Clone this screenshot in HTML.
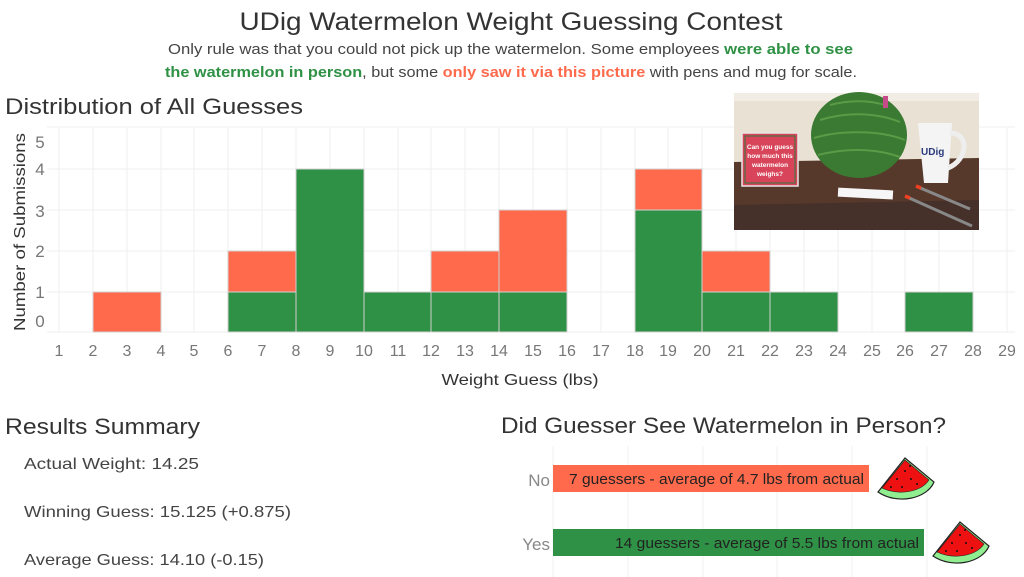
<!DOCTYPE html>
<html><head><meta charset="utf-8"><style>
html,body{margin:0;padding:0;background:#fff;width:1024px;height:577px;overflow:hidden}
svg{display:block}
text{font-family:"Liberation Sans",sans-serif}
</style></head><body>
<svg width="1024" height="577" viewBox="0 0 1024 577" xmlns="http://www.w3.org/2000/svg">
<text x="511" y="30" text-anchor="middle" font-size="25" fill="#333" textLength="543" lengthAdjust="spacingAndGlyphs">UDig Watermelon Weight Guessing Contest</text>
<text x="168" y="54" font-size="15" fill="#444" textLength="685" lengthAdjust="spacingAndGlyphs">Only rule was that you could not pick up the watermelon. Some employees <tspan fill="#2f9145" font-weight="bold">were able to see</tspan></text>
<text x="165" y="77" font-size="15" fill="#444" textLength="692" lengthAdjust="spacingAndGlyphs"><tspan fill="#2f9145" font-weight="bold">the watermelon in person</tspan>, but some <tspan fill="#ff6a4d" font-weight="bold">only saw it via this picture</tspan> with pens and mug for scale.</text>
<text x="5" y="114" font-size="22" fill="#333" textLength="298" lengthAdjust="spacingAndGlyphs">Distribution of All Guesses</text>

<g stroke="#efefef" stroke-width="1">
<line x1="47" y1="127" x2="1015" y2="127"/>
<line x1="47" y1="169" x2="1015" y2="169"/>
<line x1="47" y1="210" x2="1015" y2="210"/>
<line x1="47" y1="251" x2="1015" y2="251"/>
<line x1="47" y1="292" x2="1015" y2="292"/>
<line x1="47" y1="332" x2="1015" y2="332"/>
<line x1="59" y1="127" x2="59" y2="332"/><line x1="93" y1="127" x2="93" y2="332"/><line x1="127" y1="127" x2="127" y2="332"/><line x1="161" y1="127" x2="161" y2="332"/><line x1="194" y1="127" x2="194" y2="332"/><line x1="228" y1="127" x2="228" y2="332"/><line x1="262" y1="127" x2="262" y2="332"/><line x1="296" y1="127" x2="296" y2="332"/><line x1="330" y1="127" x2="330" y2="332"/><line x1="364" y1="127" x2="364" y2="332"/><line x1="398" y1="127" x2="398" y2="332"/><line x1="431" y1="127" x2="431" y2="332"/><line x1="465" y1="127" x2="465" y2="332"/><line x1="499" y1="127" x2="499" y2="332"/><line x1="533" y1="127" x2="533" y2="332"/><line x1="567" y1="127" x2="567" y2="332"/><line x1="601" y1="127" x2="601" y2="332"/><line x1="635" y1="127" x2="635" y2="332"/><line x1="668" y1="127" x2="668" y2="332"/><line x1="702" y1="127" x2="702" y2="332"/><line x1="736" y1="127" x2="736" y2="332"/><line x1="770" y1="127" x2="770" y2="332"/><line x1="804" y1="127" x2="804" y2="332"/><line x1="838" y1="127" x2="838" y2="332"/><line x1="872" y1="127" x2="872" y2="332"/><line x1="905" y1="127" x2="905" y2="332"/><line x1="939" y1="127" x2="939" y2="332"/><line x1="973" y1="127" x2="973" y2="332"/><line x1="1007" y1="127" x2="1007" y2="332"/>
</g>
<g stroke="#d0d0d0" stroke-width="1">
<rect x="93" y="292" width="68" height="40" fill="#ff6a4d"/>
<rect x="228" y="292" width="68" height="40" fill="#2f9145"/>
<rect x="228" y="251" width="68" height="41" fill="#ff6a4d"/>
<rect x="296" y="169" width="68" height="163" fill="#2f9145"/>
<rect x="364" y="292" width="67" height="40" fill="#2f9145"/>
<rect x="431" y="292" width="68" height="40" fill="#2f9145"/>
<rect x="431" y="251" width="68" height="41" fill="#ff6a4d"/>
<rect x="499" y="292" width="68" height="40" fill="#2f9145"/>
<rect x="499" y="210" width="68" height="82" fill="#ff6a4d"/>
<rect x="635" y="210" width="67" height="122" fill="#2f9145"/>
<rect x="635" y="169" width="67" height="41" fill="#ff6a4d"/>
<rect x="702" y="292" width="68" height="40" fill="#2f9145"/>
<rect x="702" y="251" width="68" height="41" fill="#ff6a4d"/>
<rect x="770" y="292" width="68" height="40" fill="#2f9145"/>
<rect x="905" y="292" width="68" height="40" fill="#2f9145"/>
</g>
<g font-size="17" fill="#777" text-anchor="middle">
<text x="40" y="148">5</text><text x="40" y="175">4</text><text x="40" y="217">3</text><text x="40" y="257">2</text><text x="40" y="298">1</text><text x="40" y="327">0</text>
</g>
<text transform="translate(25,232) rotate(-90)" text-anchor="middle" font-size="16" fill="#333" textLength="198" lengthAdjust="spacingAndGlyphs">Number of Submissions</text>
<g font-size="16" fill="#777" text-anchor="middle">
<text x="59" y="356">1</text><text x="93" y="356">2</text><text x="127" y="356">3</text><text x="161" y="356">4</text><text x="194" y="356">5</text><text x="228" y="356">6</text><text x="262" y="356">7</text><text x="296" y="356">8</text><text x="330" y="356">9</text><text x="364" y="356">10</text><text x="398" y="356">11</text><text x="431" y="356">12</text><text x="465" y="356">13</text><text x="499" y="356">14</text><text x="533" y="356">15</text><text x="567" y="356">16</text><text x="601" y="356">17</text><text x="635" y="356">18</text><text x="668" y="356">19</text><text x="702" y="356">20</text><text x="736" y="356">21</text><text x="770" y="356">22</text><text x="804" y="356">23</text><text x="838" y="356">24</text><text x="872" y="356">25</text><text x="905" y="356">26</text><text x="939" y="356">27</text><text x="973" y="356">28</text><text x="1007" y="356">29</text>
</g>
<text x="520" y="385" text-anchor="middle" font-size="16" fill="#333" textLength="157" lengthAdjust="spacingAndGlyphs">Weight Guess (lbs)</text>

<g>
<rect x="734" y="93" width="245" height="137" fill="#e9e1d3"/>
<rect x="734" y="93" width="245" height="8" fill="#f2ede4"/>
<polygon points="734,162 979,158 979,230 734,230" fill="#56392b"/>
<polygon points="734,205 979,200 979,230 734,230" fill="#45302a"/>
<ellipse cx="859" cy="135" rx="48" ry="43" fill="#3a7a32"/>
<g fill="none" stroke="#6aa84f" stroke-width="2" opacity="0.7">
<path d="M820,120 C845,112 875,112 900,122"/><path d="M814,138 C840,130 880,130 905,140"/><path d="M818,155 C845,148 875,148 900,157"/><path d="M830,105 C850,100 870,100 888,106"/>
</g>
<rect x="883" y="96" width="5" height="12" fill="#c74a8a"/>
<rect x="742" y="133" width="56" height="53" fill="#d8455a" stroke="#e8e8e8" stroke-width="1.5"/>
<rect x="745" y="136" width="50" height="47" fill="none" stroke="#2f7a3e" stroke-width="1"/>
<text x="770" y="149" text-anchor="middle" font-size="6.5" font-weight="bold" fill="#fff">Can you guess</text>
<text x="770" y="158" text-anchor="middle" font-size="6.5" font-weight="bold" fill="#fff">how much this</text>
<text x="770" y="167" text-anchor="middle" font-size="6.5" font-weight="bold" fill="#fff">watermelon</text>
<text x="770" y="176" text-anchor="middle" font-size="6.5" font-weight="bold" fill="#fff">weighs?</text>
<path d="M918,123 L952,123 L948,183 L924,183 Z" fill="#f4f4f4"/>
<path d="M950,133 C970,133 968,160 948,168" fill="none" stroke="#eee" stroke-width="5"/>
<text x="921" y="155" font-size="10" font-weight="bold" fill="#2a3a7a">UDig</text>
<rect x="838" y="189" width="55" height="9" fill="#f6f6f6" transform="rotate(3 865 193)"/>
<line x1="907" y1="197" x2="972" y2="226" stroke="#888" stroke-width="3"/>
<line x1="918" y1="187" x2="970" y2="209" stroke="#888" stroke-width="3"/>
<line x1="905" y1="196" x2="910" y2="198" stroke="#f04020" stroke-width="3.5"/>
<line x1="916" y1="186" x2="921" y2="188" stroke="#f04020" stroke-width="3.5"/>
</g>

<text x="5" y="434" font-size="22" fill="#333" textLength="195" lengthAdjust="spacingAndGlyphs">Results Summary</text>
<text x="24" y="469" font-size="16" fill="#444" textLength="175" lengthAdjust="spacingAndGlyphs">Actual Weight: 14.25</text>
<text x="24" y="517" font-size="16" fill="#444" textLength="267" lengthAdjust="spacingAndGlyphs">Winning Guess: 15.125 (+0.875)</text>
<text x="24" y="565" font-size="16" fill="#444" textLength="240" lengthAdjust="spacingAndGlyphs">Average Guess: 14.10 (-0.15)</text>

<text x="501" y="433" font-size="22" fill="#333" textLength="445" lengthAdjust="spacingAndGlyphs">Did Guesser See Watermelon in Person?</text>
<g stroke="#f0f0f0">
<line x1="553" y1="446" x2="553" y2="577"/><line x1="628" y1="446" x2="628" y2="577"/><line x1="703" y1="446" x2="703" y2="577"/><line x1="777" y1="446" x2="777" y2="577"/><line x1="852" y1="446" x2="852" y2="577"/><line x1="927" y1="446" x2="927" y2="577"/>
</g>
<rect x="553" y="465" width="316" height="27" fill="#ff6a4d"/>
<rect x="553" y="529" width="371" height="27" fill="#2f9145"/>
<text x="550" y="486" text-anchor="end" font-size="17" fill="#888">No</text>
<text x="550" y="550" text-anchor="end" font-size="17" fill="#888">Yes</text>
<text x="864" y="484" text-anchor="end" font-size="15" fill="#222" textLength="295" lengthAdjust="spacingAndGlyphs">7 guessers - average of 4.7 lbs from actual</text>
<text x="919" y="548" text-anchor="end" font-size="15" fill="#222" textLength="304" lengthAdjust="spacingAndGlyphs">14 guessers - average of 5.5 lbs from actual</text>

<g transform="translate(877,457)">
<path d="M1,35 L28,1 L57,25 C50,42 20,48 1,35 Z" fill="#90ee90" stroke="#222" stroke-width="1.2"/>
<path d="M5,31 L28,3 L52,23 C44,35 22,39 5,31 Z" fill="#ee1111" stroke="#222" stroke-width="0.6"/>
<g fill="#111"><circle cx="20" cy="22" r="1"/><circle cx="28" cy="14" r="1"/><circle cx="34" cy="22" r="1"/><circle cx="25" cy="30" r="1"/><circle cx="40" cy="27" r="1"/><circle cx="33" cy="9" r="1"/><circle cx="14" cy="30" r="1"/></g>
</g>
<g transform="translate(932,521)">
<path d="M1,35 L28,1 L57,25 C50,42 20,48 1,35 Z" fill="#90ee90" stroke="#222" stroke-width="1.2"/>
<path d="M5,31 L28,3 L52,23 C44,35 22,39 5,31 Z" fill="#ee1111" stroke="#222" stroke-width="0.6"/>
<g fill="#111"><circle cx="20" cy="22" r="1"/><circle cx="28" cy="14" r="1"/><circle cx="34" cy="22" r="1"/><circle cx="25" cy="30" r="1"/><circle cx="40" cy="27" r="1"/><circle cx="33" cy="9" r="1"/><circle cx="14" cy="30" r="1"/></g>
</g>
</svg>
</body></html>
